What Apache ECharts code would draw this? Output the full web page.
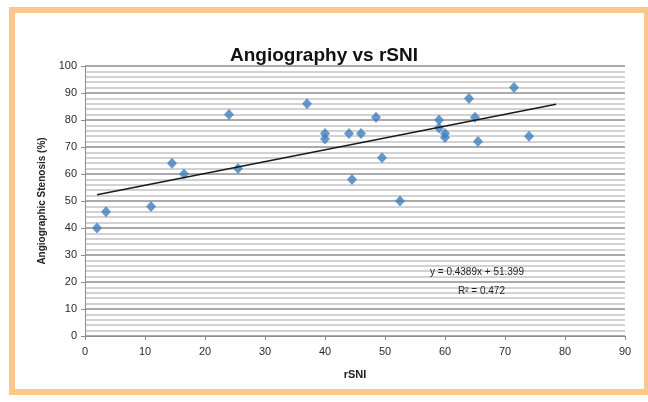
<!DOCTYPE html>
<html>
<head>
<meta charset="utf-8">
<script src="https://cdn.jsdelivr.net/npm/echarts@6/dist/echarts.min.js"></script>
<style>
  body { margin: 0; background: #fff; }
  #chart { position: absolute; left: 0; top: 0; width: 648px; height: 402px; }
  #frame {
    position: absolute; left: 9px; top: 7px; width: 641px; height: 388px;
    box-sizing: border-box; border: 6px solid #fac78c; pointer-events: none;
  }
</style>
</head>
<body>
<div id="chart"></div>
<div id="frame"></div>
<script>
// rSNI (x) vs angiographic stenosis % (y)
const rsni = [2, 3.5, 11, 14.5, 16.5, 24, 25.5, 37, 40, 40, 44, 46, 44.5, 48.5, 49.5, 52.5,
  59, 59, 60, 60, 64, 65, 65.5, 71.5, 74]
const stenosis = [40, 46, 48, 64, 60, 82, 62, 86, 75, 73, 75, 75, 58, 81, 66, 50,
  80, 77, 75, 73.5, 88, 81, 72, 92, 74]

// linear trendline (from the chart's equation)
const trendSlope = 0.4389
const trendIntercept = 51.399
const trendRange = [2, 78.5]

const xTicks = [0, 90, 10]
const yTicks = [0, 100, 10]

const font = '"Liberation Sans", Arial, sans-serif'

const chart = echarts.init(document.getElementById('chart'))

chart.setOption({
  backgroundColor: '#fff',
  animation: false,
  title: {
    text: 'Angiography vs rSNI',
    left: 'center',
    top: 41,
    textStyle: { fontSize: 19, fontWeight: 'bold', color: '#111', fontFamily: font },
  },
  grid: { left: 85, right: 23, top: 66, bottom: 66 },
  xAxis: {
    type: 'value',
    min: xTicks[0],
    max: xTicks[1],
    interval: xTicks[2],
    name: 'rSNI',
    nameLocation: 'middle',
    nameGap: 33,
    nameTextStyle: { fontSize: 11, fontWeight: 'bold', color: '#222', fontFamily: font },
    axisLine: { lineStyle: { color: '#8c8c8c', width: 1 } },
    axisTick: { show: true, length: 4, lineStyle: { color: '#8c8c8c' } },
    axisLabel: { fontSize: 11, color: '#2a2a2a', margin: 10, fontFamily: font },
    splitLine: { show: false },
  },
  yAxis: {
    type: 'value',
    min: yTicks[0],
    max: yTicks[1],
    interval: yTicks[2],
    name: 'Angiographic Stenosis (%)',
    nameLocation: 'middle',
    nameGap: 33,
    nameTextStyle: { fontSize: 10, fontWeight: 'bold', color: '#222', fontFamily: font },
    axisLine: { show: true, lineStyle: { color: '#8c8c8c', width: 1 } },
    axisTick: { show: true, length: 4, lineStyle: { color: '#8c8c8c' } },
    axisLabel: { fontSize: 11, color: '#2a2a2a', margin: 8, fontFamily: font },
    splitLine: { lineStyle: { color: '#a9a9a9', width: 2 } },
    minorTick: { show: false, splitNumber: 5 },
    minorSplitLine: { show: true, lineStyle: { color: '#d2d2d2', width: 2 } },
  },
  series: [
    {
      type: 'scatter',
      symbol: 'diamond',
      symbolSize: [10, 11],
      itemStyle: { color: '#3f7fbf' },
      data: rsni.map((x, i) => [x, stenosis[i]]),
      z: 3,
    },
    {
      type: 'line',
      showSymbol: false,
      lineStyle: { color: '#1a1a1a', width: 1.5 },
      data: trendRange.map(x => [x, trendSlope * x + trendIntercept]),
      z: 4,
    },
  ],
  graphic: [
    {
      type: 'text',
      left: 430,
      top: 267,
      z: 100,
      style: { text: 'y = 0.4389x + 51.399', fontSize: 10, fill: '#222', fontFamily: font },
    },
    {
      type: 'text',
      left: 458,
      top: 286,
      z: 100,
      style: { text: 'R² = 0.472', fontSize: 10, fill: '#222', fontFamily: font },
    },
  ],
})
</script>
</body>
</html>
